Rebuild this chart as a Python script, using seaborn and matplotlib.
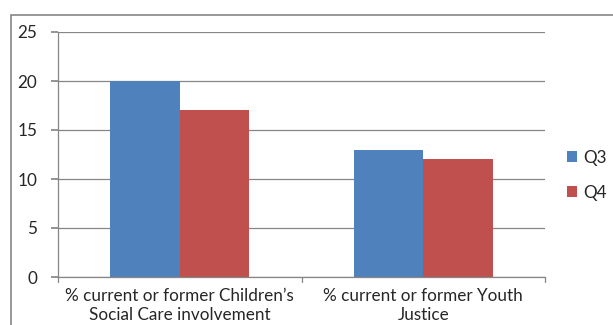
import matplotlib
matplotlib.use("Agg")
import matplotlib.pyplot as plt
import seaborn as sns
import pandas as pd
from matplotlib.patches import Rectangle

categories = ["% current or former Children\u2019s\nSocial Care involvement",
              "% current or former Youth\nJustice"]
q3_values = [20, 13]
q4_values = [17, 12]
series_names = ["Q3", "Q4"]
y_ticks = [0, 5, 10, 15, 20, 25]

df = pd.DataFrame({
    "category": categories * 2,
    "value": q3_values + q4_values,
    "quarter": [series_names[0]] * 2 + [series_names[1]] * 2,
})

sns.set_theme(style="white")
plt.rcParams["font.family"] = ["Lato", "DejaVu Sans"]

fig = plt.figure(figsize=(6.13, 3.25), dpi=100)
ax = fig.add_axes([58 / 613, 1 - 277 / 325, (545 - 58) / 613, (277 - 32) / 325])

palette = {"Q3": "#4F81BD", "Q4": "#C0504D"}
sns.barplot(data=df, x="category", y="value", hue="quarter", palette=palette,
            width=0.57, saturation=1, ax=ax, legend=True, linewidth=0)

text_color = "#262626"
ax.set_ylim(0, 25)
ax.set_xlim(-0.5, 1.5)
ax.set_yticks(y_ticks)
ax.set_xticks([0, 1])
ax.set_xticklabels(categories, fontsize=12.3, color=text_color, linespacing=1.22)
ax.tick_params(axis="y", labelsize=12.3, labelcolor=text_color, length=5,
               color="#868686", direction="out", left=True, pad=10)
ax.tick_params(axis="x", length=0, pad=8)
ax.set_xlabel("")
ax.set_ylabel("")

# horizontal gridlines
ax.yaxis.grid(True, color="#868686", linewidth=0.9)
ax.set_axisbelow(True)
for side in ["top", "right"]:
    ax.spines[side].set_visible(False)
for side in ["left", "bottom"]:
    ax.spines[side].set_color("#868686")
    ax.spines[side].set_linewidth(0.9)

# category boundary ticks on x axis
for xb in [-0.5, 0.5, 1.5]:
    ax.plot([xb, xb], [0, -0.55], color="#868686", lw=0.9, clip_on=False)

leg = ax.legend(loc="center left", bbox_to_anchor=(1.045, 0.415), frameon=False,
                fontsize=12.3, handlelength=0.6, handleheight=0.6,
                handletextpad=0.35, labelspacing=1.1, borderaxespad=0,
                borderpad=0)
for t in leg.get_texts():
    t.set_color(text_color)

# chart area border
fig.add_artist(Rectangle((11 / 613, -0.1), 1.2, 1.1 - 15 / 325,
                         transform=fig.transFigure, fill=False,
                         edgecolor="#868686", linewidth=1.2))

fig.savefig("out.png", dpi=100)
